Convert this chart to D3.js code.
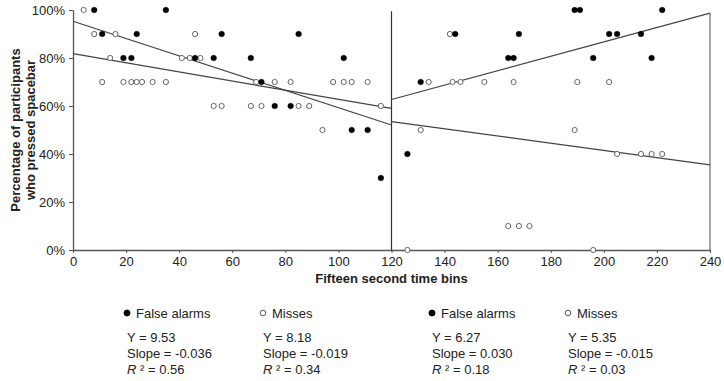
<!DOCTYPE html>
<html>
<head>
<meta charset="utf-8">
<script src="https://cdn.jsdelivr.net/npm/d3@7"></script>
<style>
  body { margin: 0; background: #fff; }
  svg { display: block; font-family: "Liberation Sans", Arial, sans-serif; }
</style>
</head>
<body>
<div id="chart"></div>
<script>
// --- data (time bin, % of participants) ---
const falseAlarmsFirst = [
  [8, 100], [35, 100], [11, 90], [24, 90], [56, 90], [85, 90],
  [19, 80], [22, 80], [46, 80], [53, 80], [67, 80], [102, 80],
  [71, 70], [76, 60], [82, 60], [105, 50], [111, 50], [116, 30]
];
const missesFirst = [
  [4, 100], [8, 90], [16, 90], [46, 90], [14, 80], [41, 80], [44, 80], [48, 80],
  [11, 70], [19, 70], [22, 70], [24, 70], [26, 70], [30, 70], [35, 70],
  [69, 70], [76, 70], [82, 70], [98, 70], [102, 70], [105, 70], [111, 70],
  [53, 60], [56, 60], [67, 60], [71, 60], [85, 60], [89, 60], [116, 60], [94, 50]
];
const falseAlarmsSecond = [
  [126, 40], [131, 70], [144, 90], [164, 80], [166, 80], [168, 90],
  [189, 100], [191, 100], [196, 80], [202, 90], [205, 90], [214, 90],
  [218, 80], [222, 100]
];
const missesSecond = [
  [126, 0], [131, 50], [134, 70], [142, 90], [143, 70], [146, 70], [155, 70],
  [166, 70], [164, 10], [168, 10], [172, 10], [189, 50], [190, 70], [196, 0],
  [202, 70], [205, 40], [214, 40], [218, 40], [222, 40]
];

// regression fits: [segment start, segment end, intercept, slope, R²]
const fitLabels = ['False alarms', 'Misses', 'False alarms', 'Misses'];
const fitStart = [0, 0, 120, 120];
const fitEnd = [120, 120, 240, 240];
const fitIntercept = [9.53, 8.18, 6.27, 5.35];
const fitSlope = [-0.036, -0.019, 0.030, -0.015];
const fitR2 = ['0.56', '0.34', '0.18', '0.03'];
const fitFilled = [true, false, true, false];

const xTicks = [0, 20, 40, 60, 80, 100, 120, 140, 160, 180, 200, 220, 240];
const yTicks = [0, 20, 40, 60, 80, 100];

const W = 724, H = 381;
const svg = d3.select('#chart').append('svg').attr('width', W).attr('height', H);

const x = d3.scaleLinear().domain([0, 240]).range([73, 710]);
const y = d3.scaleLinear().domain([0, 100]).range([250, 10]);

const axisColor = '#555';
const textColor = '#222';

// y axis
const yAxis = svg.append('g').attr('transform', `translate(${x(0)},0)`)
  .call(d3.axisLeft(y).tickValues(yTicks).tickSize(4).tickSizeOuter(0).tickPadding(4)
    .tickFormat(d => d + '%'));
yAxis.select('.domain').attr('stroke', axisColor).attr('stroke-width', 1.3);
yAxis.selectAll('.tick line').attr('stroke', axisColor);
yAxis.selectAll('.tick text').attr('fill', textColor).attr('font-size', 13)
  .attr('font-family', '"Liberation Sans", Arial, sans-serif');

// x axis
const xAxis = svg.append('g').attr('transform', `translate(0,${y(0)})`)
  .call(d3.axisBottom(x).tickValues(xTicks).tickSize(3).tickSizeOuter(0).tickPadding(4));
xAxis.select('.domain').attr('stroke', axisColor).attr('stroke-width', 1.3);
xAxis.selectAll('.tick line').attr('stroke', axisColor);
xAxis.selectAll('.tick text').attr('fill', textColor).attr('font-size', 13)
  .attr('font-family', '"Liberation Sans", Arial, sans-serif');

// divider at 120 and right border
svg.append('line').attr('x1', x(120)).attr('x2', x(120)).attr('y1', y(99.5)).attr('y2', y(0))
  .attr('stroke', '#333').attr('stroke-width', 1.2);
svg.append('line').attr('x1', x(240)).attr('x2', x(240)).attr('y1', y(98.7)).attr('y2', y(0))
  .attr('stroke', '#777').attr('stroke-width', 1.3);

// trend lines
fitStart.forEach((x0, i) => {
  const x1 = fitEnd[i];
  const f = v => (fitIntercept[i] + fitSlope[i] * (v - x0)) * 10;
  svg.append('line')
    .attr('x1', x(x0)).attr('y1', y(f(x0)))
    .attr('x2', x(x1)).attr('y2', y(f(x1)))
    .attr('stroke', '#444').attr('stroke-width', 1.2);
});

// points
function drawPoints(data, filled) {
  svg.append('g').selectAll('circle').data(data).join('circle')
    .attr('cx', d => x(d[0])).attr('cy', d => y(d[1]))
    .attr('r', filled ? 2.8 : 2.6)
    .attr('fill', filled ? '#000' : '#fff')
    .attr('stroke', filled ? '#000' : '#666')
    .attr('stroke-width', filled ? 0.5 : 1);
}
drawPoints(missesFirst, false);
drawPoints(missesSecond, false);
drawPoints(falseAlarmsFirst, true);
drawPoints(falseAlarmsSecond, true);

// axis titles
svg.append('text').attr('x', x(120)).attr('y', 283).attr('text-anchor', 'middle')
  .attr('font-size', 13).attr('font-weight', 700).attr('fill', textColor)
  .text('Fifteen second time bins');

const yTitle = svg.append('text').attr('transform', `translate(22,${y(50)}) rotate(-90)`)
  .attr('text-anchor', 'middle').attr('font-size', 13).attr('font-weight', 700).attr('fill', textColor);
yTitle.append('tspan').attr('x', 0).attr('dy', '-0.15em').text('Percentage of participants');
yTitle.append('tspan').attr('x', 0).attr('dy', '1.15em').text('who pressed spacebar');

// legend + fit statistics
const colX = [127, 263, 432, 568];
colX.forEach((cx, i) => {
  const g = svg.append('g').attr('transform', `translate(${cx},0)`)
    .attr('font-size', 13).attr('fill', textColor);
  g.append('circle').attr('cx', 0).attr('cy', 313).attr('r', fitFilled[i] ? 3 : 2.8)
    .attr('fill', fitFilled[i] ? '#000' : '#fff')
    .attr('stroke', fitFilled[i] ? '#000' : '#555').attr('stroke-width', 1);
  g.append('text').attr('x', 9).attr('y', 318).text(fitLabels[i]);
  g.append('text').attr('x', 0).attr('y', 342).text(`Y = ${fitIntercept[i].toFixed(2)}`);
  g.append('text').attr('x', 0).attr('y', 358).text(`Slope = ${fitSlope[i].toFixed(3)}`);
  const r = g.append('text').attr('x', 0).attr('y', 374);
  r.append('tspan').attr('font-style', 'italic').text('R');
  r.append('tspan').text(' ² = ' + fitR2[i]);
});
</script>
</body>
</html>
